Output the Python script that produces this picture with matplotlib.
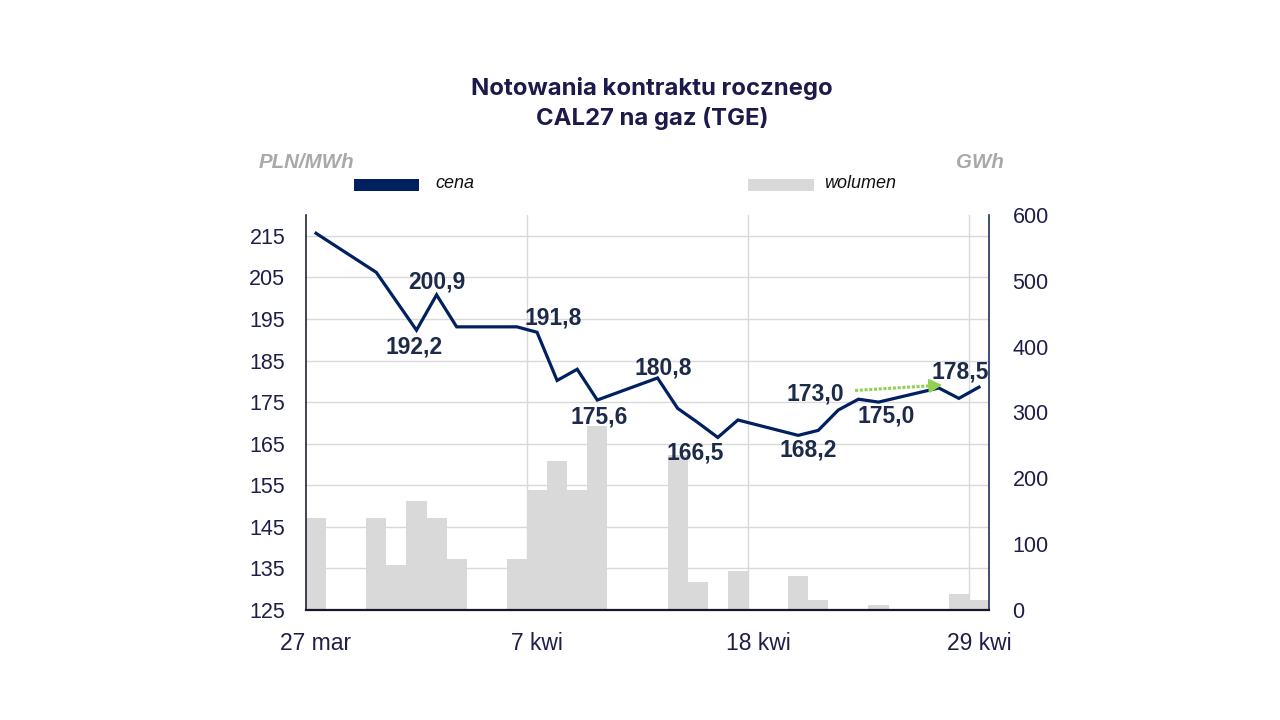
import matplotlib
matplotlib.use("Agg")
import matplotlib.pyplot as plt
import matplotlib.dates as mdates
from matplotlib.patches import Rectangle
import pandas as pd

# ---------------- data ----------------
title_lines = ["Notowania kontraktu rocznego", "CAL27 na gaz (TGE)"]

price_dates = ["2026-03-27", "2026-03-30", "2026-04-01", "2026-04-02", "2026-04-03",
               "2026-04-06", "2026-04-07", "2026-04-08", "2026-04-09", "2026-04-10",
               "2026-04-13", "2026-04-14", "2026-04-15", "2026-04-16", "2026-04-17",
               "2026-04-20", "2026-04-21", "2026-04-22", "2026-04-23", "2026-04-24",
               "2026-04-27", "2026-04-28", "2026-04-29"]
price = [215.6, 206.2, 192.3, 200.8, 193.1,
         193.1, 191.8, 180.2, 182.9, 175.5,
         180.8, 173.5, 170.1, 166.5, 170.7,
         167.0, 168.2, 173.1, 175.7, 175.0,
         178.4, 175.9, 178.6]

volume_dates = ["2026-03-27", "2026-03-30", "2026-03-31", "2026-04-01", "2026-04-02",
                "2026-04-03", "2026-04-06", "2026-04-07", "2026-04-08", "2026-04-09",
                "2026-04-10", "2026-04-14", "2026-04-15", "2026-04-17", "2026-04-20",
                "2026-04-21", "2026-04-24", "2026-04-28", "2026-04-29"]
volume = [140, 140, 68, 166, 140,
          77, 77, 182, 226, 182,
          280, 235, 43, 59, 52,
          15, 8, 25, 15]

label_dates = ["2026-04-01", "2026-04-02", "2026-04-07", "2026-04-10", "2026-04-13",
               "2026-04-16", "2026-04-21", "2026-04-22", "2026-04-24", "2026-04-27"]
label_texts = ["192,2", "200,9", "191,8", "175,6", "180,8",
               "166,5", "168,2", "173,0", "175,0", "178,5"]

trend_dates = ["2026-04-22 20:00", "2026-04-27 04:00"]
trend_values = [177.8, 179.1]

price_ticks = [125, 135, 145, 155, 165, 175, 185, 195, 205, 215]
volume_ticks = [0, 100, 200, 300, 400, 500, 600]
x_tick_dates = ["2026-03-27", "2026-04-07", "2026-04-18", "2026-04-29"]
x_tick_labels = ["27 mar", "7 kwi", "18 kwi", "29 kwi"]

price_label = "PLN/MWh"
volume_label = "GWh"
legend_names = ["cena", "wolumen"]

# ---------------- styles ----------------
NAVY = "#002060"
BAR = "#D9D9D9"
GRID = "#D9D9D9"
TXT = "#1E1E4A"
LBL = "#1D2B4A"
GREEN = "#92D050"
GRAYTXT = "#A9A9A9"

label_offsets_px = [(-2, -17), (0, 13), (16, 14), (2, -17), (6, 10),
                    (-23, -16), (-10, -20), (-23, 16), (8, -14), (21, 16)]

pd_price_x = mdates.date2num(pd.to_datetime(price_dates))
pd_vol_x = mdates.date2num(pd.to_datetime(volume_dates))
pd_lab_x = mdates.date2num(pd.to_datetime(label_dates))
pd_tr_x = mdates.date2num(pd.to_datetime(trend_dates))
pd_tick_x = mdates.date2num(pd.to_datetime(x_tick_dates))
price_map = dict(zip(pd_price_x, price))

xmin = pd_tick_x[0] - 0.5
xmax = pd_tick_x[-1] + 0.5

fig = plt.figure(figsize=(12.8, 7.2), dpi=100)
W, H = 1280, 720
rect = [306 / W, 1 - 610 / H, (989 - 306) / W, (610 - 215) / H]

axg = fig.add_axes(rect, zorder=0)
axv = fig.add_axes(rect, zorder=1)
axp = fig.add_axes(rect, zorder=2)
axv.patch.set_visible(False)
axp.patch.set_visible(False)

for a in (axg, axv, axp):
    a.set_xlim(xmin, xmax)
    for s in a.spines.values():
        s.set_visible(False)

# grid axes
axg.set_ylim(125, 220)
axg.set_yticks(price_ticks)
axg.set_xticks(pd_tick_x)
axg.set_xticks(pd_tick_x[1:] - 0.5, minor=True)
axg.grid(axis="y", which="major", color=GRID, lw=1)
axg.grid(axis="x", which="minor", color=GRID, lw=1)
axg.tick_params(which="both", length=0, labelleft=False, labelbottom=False)

# volume bars
axv.bar(pd_vol_x, volume, width=1.0, color=BAR, align="center", linewidth=0)
axv.set_ylim(0, 600)
axv.yaxis.tick_right()
axv.set_yticks(volume_ticks)
axv.set_yticklabels([str(v) for v in volume_ticks])
axv.tick_params(axis="y", length=0, pad=17, labelsize=15.5, labelcolor=TXT)
axv.tick_params(axis="x", length=0, labelbottom=False)
for t in axv.get_yticklabels():
    t.set_fontfamily("Liberation Sans")
axv.spines["right"].set_visible(True)
axv.spines["right"].set_color("#1B2F5E")
axv.spines["right"].set_linewidth(1.2)

# price line
axp.plot(pd_price_x, price, color=NAVY, lw=2.3, solid_joinstyle="miter")
axp.set_ylim(125, 220)
axp.set_yticks(price_ticks)
axp.set_yticklabels([str(v) for v in price_ticks])
axp.set_xticks(pd_tick_x)
axp.set_xticklabels(x_tick_labels)
axp.tick_params(axis="y", length=0, pad=15, labelsize=15.5, labelcolor=TXT)
axp.tick_params(axis="x", length=0, pad=16, labelsize=16.5, labelcolor=TXT)
for t in axp.get_yticklabels() + axp.get_xticklabels():
    t.set_fontfamily("Liberation Sans")
axp.spines["left"].set_visible(True)
axp.spines["left"].set_color("#1F2438")
axp.spines["left"].set_linewidth(1.2)
axp.spines["bottom"].set_visible(True)
axp.spines["bottom"].set_color("#15182A")
axp.spines["bottom"].set_linewidth(1.6)

# data labels
for x, txt, (dx, dy) in zip(pd_lab_x, label_texts, label_offsets_px):
    axp.annotate(txt, xy=(x, price_map[x]), xytext=(dx, dy), textcoords="offset pixels",
                 ha="center", va="center", fontsize=16.5, fontweight="bold",
                 color=LBL, family="Liberation Sans")

# green dotted trend arrow: dotted shaft + small solid head
head_frac = 0.08
hx0 = pd_tr_x[1] - head_frac * (pd_tr_x[1] - pd_tr_x[0])
hy0 = trend_values[1] - head_frac * (trend_values[1] - trend_values[0])
axp.plot([pd_tr_x[0], hx0], [trend_values[0], hy0], color=GREEN, lw=2.2,
         linestyle=(0, (1.0, 0.55)), dash_capstyle="butt")
axp.annotate("", xy=(pd_tr_x[1], trend_values[1]), xytext=(hx0, hy0),
             arrowprops=dict(arrowstyle="-|>,head_length=0.55,head_width=0.3", color=GREEN,
                             lw=1.5, shrinkA=0, shrinkB=0, mutation_scale=14))

# title
fig.text(652 / W, 1 - 89 / H, title_lines[0], ha="center", va="center",
         fontsize=17.2, fontweight="bold", color="#1B1A4A", family="Inter")
fig.text(652 / W, 1 - 118 / H, title_lines[1], ha="center", va="center",
         fontsize=17.2, fontweight="bold", color="#1B1A4A", family="Inter")

# axis unit labels
fig.text(259 / W, 1 - 163 / H, price_label, ha="left", va="center", fontsize=14.8,
         fontweight="bold", style="italic", color=GRAYTXT, family="Liberation Sans")
fig.text(1004 / W, 1 - 163 / H, volume_label, ha="right", va="center", fontsize=14.8,
         fontweight="bold", style="italic", color=GRAYTXT, family="Liberation Sans")

# legend
fig.patches.append(Rectangle((354 / W, 1 - 191 / H), 65 / W, 12 / H,
                             transform=fig.transFigure, color=NAVY, lw=0))
fig.text(435 / W, 1 - 183 / H, legend_names[0], ha="left", va="center", fontsize=13,
         style="italic", color="#111111", family="Liberation Sans")
fig.patches.append(Rectangle((748 / W, 1 - 191 / H), 66 / W, 12 / H,
                             transform=fig.transFigure, color=BAR, lw=0))
fig.text(824 / W, 1 - 184 / H, legend_names[1], ha="left", va="center", fontsize=13,
         style="italic", color="#111111", family="Liberation Sans")

fig.savefig("out.png", dpi=100)
